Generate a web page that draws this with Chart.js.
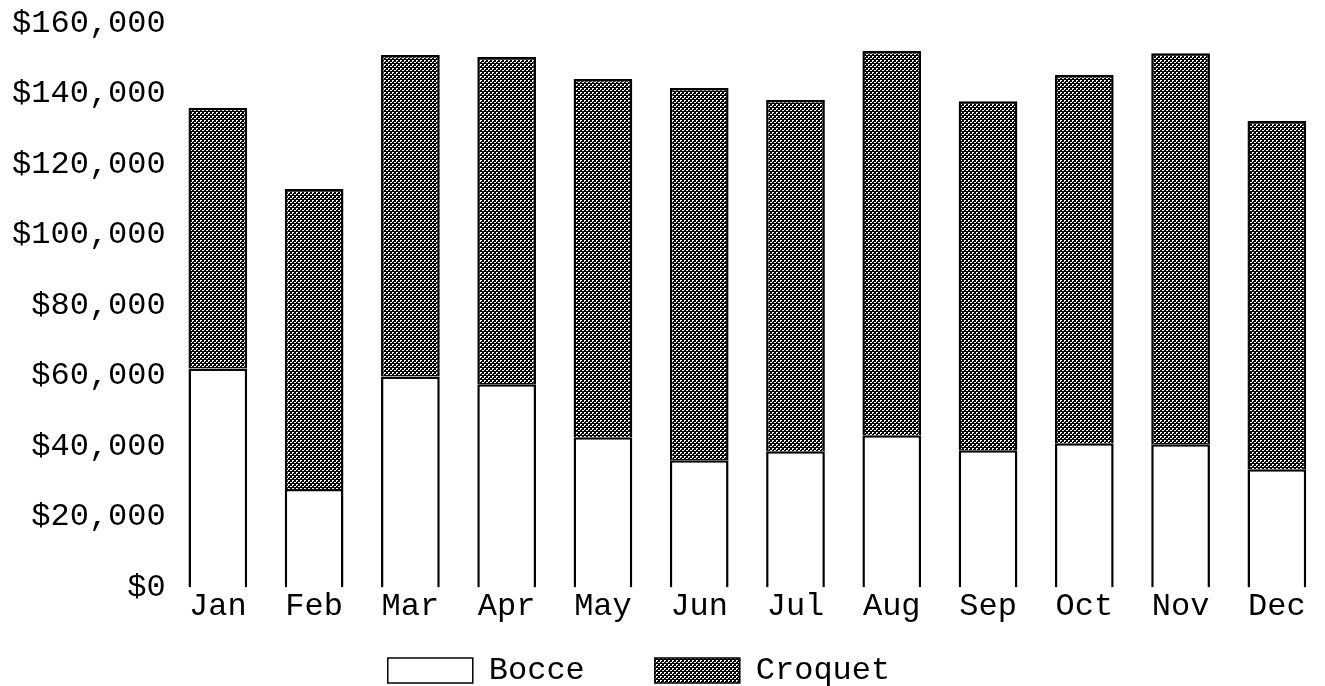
<!DOCTYPE html>
<html>
<head>
<meta charset="utf-8">
<script src="https://cdn.jsdelivr.net/npm/chart.js@4.4.1/dist/chart.umd.min.js"></script>
<style>
html, body { margin: 0; padding: 0; background: #fff; }
#wrap { width: 1325px; height: 686px; }
</style>
</head>
<body>
<div id="wrap"><canvas id="grafico"></canvas></div>
<script>
// datos
const meses = ['Jan', 'Feb', 'Mar', 'Apr', 'May', 'Jun', 'Jul', 'Aug', 'Sep', 'Oct', 'Nov', 'Dec'];

const bocce = [62100, 27900, 59800, 57600, 42600, 36100, 38600, 43200, 38900, 40900, 40600, 33500];

const croquet = [73900, 85100, 91200, 92800, 101600, 105500, 99600, 108900, 99000, 104400, 110900, 98800];

const y_min = 0;
const y_max = 160000;
const y_step = 20000;

const fuente = "'Liberation Mono', 'Courier New', monospace";


// trama punteada para croquet
function crear_trama()
{
    const c = document.createElement('canvas');
    c.width = 4;
    c.height = 4;
    const g = c.getContext('2d');
    g.fillStyle = '#000';
    g.fillRect(0, 0, 4, 4);
    g.fillStyle = '#fff';
    g.fillRect(0, 0, 2, 1);
    g.fillRect(0, 1, 1, 1);
    g.fillRect(2, 2, 2, 1);
    return g.createPattern(c, 'repeat');
}


const ctx = document.getElementById('grafico');

const trama = crear_trama();

const chart = new Chart(ctx, {

    type: 'bar',

    data: {

        labels: meses,

        datasets: [
            {
                label: 'Bocce',
                data: bocce,
                backgroundColor: '#fff',
                borderColor: '#000',
                borderWidth: 2.5
            },
            {
                label: 'Croquet',
                data: croquet,
                backgroundColor: trama,
                borderColor: '#000',
                borderWidth: 2.5
            }
        ]

    },

    options: {

        responsive: true,
        maintainAspectRatio: false,
        animation: false,
        devicePixelRatio: 1,

        datasets: {
            bar: {
                categoryPercentage: 1,
                barPercentage: 0.61
            }
        },

        layout: {
            padding: { top: 23, left: -62, right: -15, bottom: -13.5 }
        },

        scales: {

            x: {
                stacked: true,
                grid: { display: false, drawTicks: false },
                border: { display: false },
                ticks: {
                    color: '#000',
                    mirror: true,   // asi las etiquetas no se recortan
                    padding: -38,
                    font: { family: fuente, size: 32 }
                },
                afterFit: function(scale){
                    scale.height = -3;
                }
            },

            y: {
                stacked: true,
                min: y_min,
                max: y_max,
                grid: { display: false, drawTicks: false },
                border: { display: false },
                ticks: {
                    stepSize: y_step,
                    color: '#000',
                    padding: 4,
                    font: { family: fuente, size: 32 },
                    callback: function(v){
                        return '$' + v.toLocaleString('en-US');
                    }
                },
                afterFit: function(scale){
                    scale.width = 231.7;
                }
            }

        },

        plugins: {

            legend: {
                position: 'bottom',
                labels: {
                    color: '#000',
                    boxWidth: 85,
                    boxHeight: 25,
                    padding: 70,
                    font: { family: fuente, size: 32 },
                    generateLabels: function(chart){
                        const items = Chart.defaults.plugins.legend.labels.generateLabels(chart);
                        items.forEach(function(it){ it.lineWidth = 1.5; });
                        return items;
                    }
                }
            },

            tooltip: { enabled: false }

        }

    }

});
</script>
</body>
</html>
